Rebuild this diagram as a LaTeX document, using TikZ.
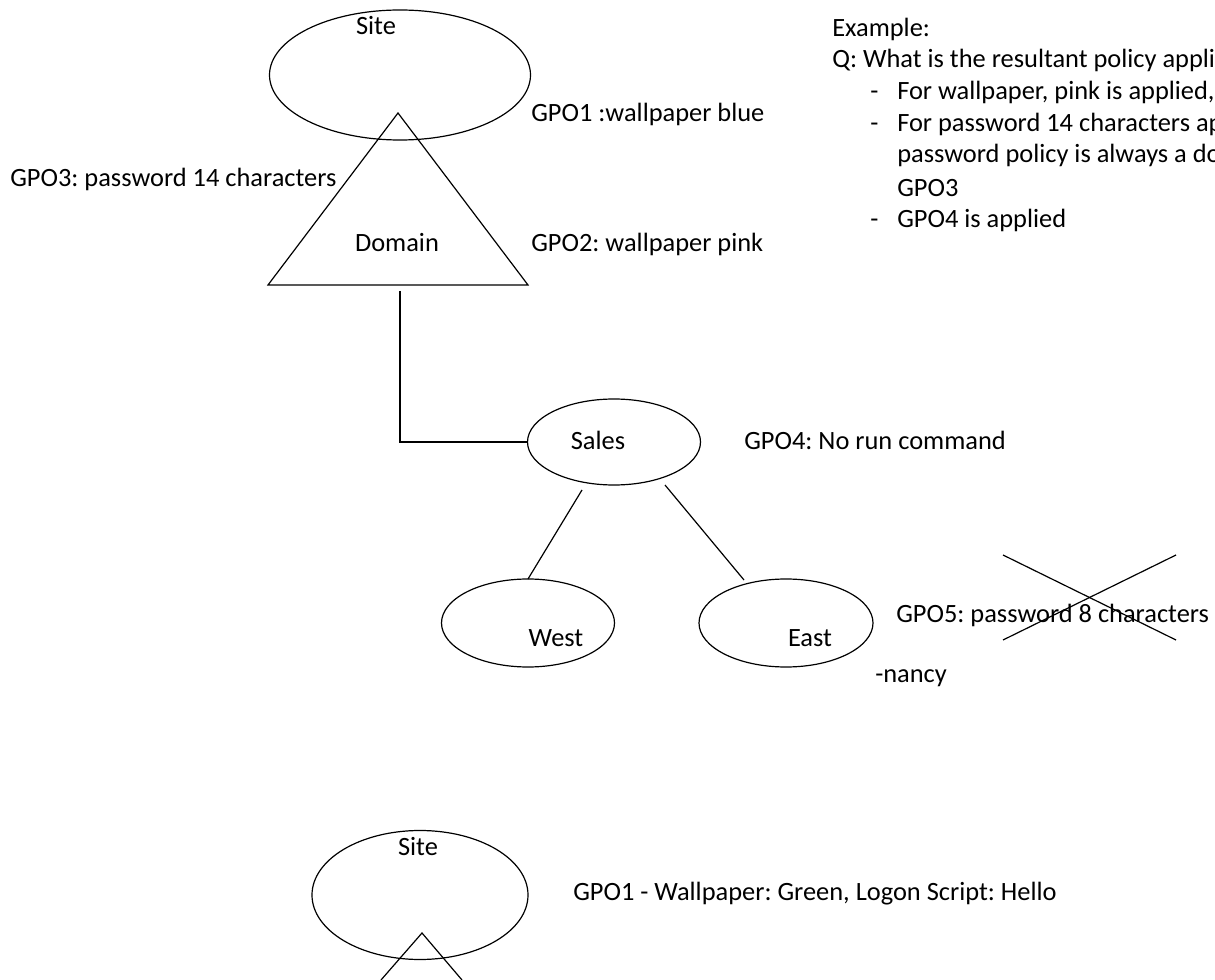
\documentclass[tikz,border=0pt]{standalone}
\usepackage{fontspec}
\setmainfont{Carlito}
\usetikzlibrary{shapes.geometric}
\frenchspacing
\begin{document}
\begin{tikzpicture}[x=0.75pt,y=-0.75pt,
  every node/.style={font=\fontsize{19.8pt}{23.8pt}\selectfont},
  txt/.style={inner sep=0pt,anchor=base west},
  lbl/.style={inner sep=0pt,anchor=base},
  oval/.style={draw,ellipse,line width=0.9pt,inner sep=0pt},
  conn/.style={line width=0.9pt}]
\useasboundingbox (0,0) rectangle (1215,980);
\clip (0,0) rectangle (1215,980);
% top site
\node[oval,minimum width=261*0.75pt,minimum height=130*0.75pt] (site) at (400,75) {};
\node[lbl] (sitelbl) at (376,35) {Site};
% domain triangle
\coordinate (apex) at (398,113);
\coordinate (bl) at (268,285);
\coordinate (br) at (528,285);
\draw[conn] (apex) -- (br) -- (bl) -- cycle;
\node[lbl] (domain) at (397,252) {Domain};
\node[txt] (g1) at (531,122) {GPO1 :wallpaper blue};
\node[txt] (g2) at (531,252) {GPO2: wallpaper pink};
\node[txt] (g3) at (10,187) {GPO3: password 14 characters};
% sales
\node[oval,minimum width=173*0.75pt,minimum height=86*0.75pt] (sales) at (614,442) {};
\node[lbl] (saleslbl) at (598,450) {Sales};
\coordinate (dbot) at (400,291);
\draw[conn] (dbot) |- (sales.west);
\node[txt] (g4) at (744,450) {GPO4: No run command};
% west, east
\node[oval,minimum width=173*0.75pt,minimum height=88*0.75pt] (west) at (528,623) {};
\node[lbl] (westlbl) at (556,647) {West};
\node[oval,minimum width=174*0.75pt,minimum height=88*0.75pt] (east) at (786,623) {};
\node[lbl] (eastlbl) at (810,647) {East};
\coordinate (s1) at (582,490);
\coordinate (w1) at (528,579);
\coordinate (s2) at (665,485);
\coordinate (e1) at (744,580);
\draw[conn] (s1) -- (w1);
\draw[conn] (s2) -- (e1);
\node[txt] (g5) at (896,623) {GPO5: password 8 characters};
\coordinate (x1) at (1003,555);
\coordinate (x2) at (1176,640);
\coordinate (x3) at (1003,640);
\coordinate (x4) at (1176,555);
\draw[conn] (x1) -- (x2);
\draw[conn] (x3) -- (x4);
\node[txt] (nancy) at (875,682) {-nancy};
% example text
\node[txt] (ex) at (832,37) {Example:};
\node[txt] (q) at (832,68) {Q: What is the resultant policy applied};
\node[txt] (d1) at (870,100) {-};
\node[txt] (b1) at (897,100) {For wallpaper, pink is applied, because};
\node[txt] (d2) at (870,132) {-};
\node[txt] (b2) at (897,132) {For password 14 characters applied};
\node[txt] (b2b) at (897,163) {password policy is always a domain};
\node[txt] (b2c) at (897,197) {GPO3};
\node[txt] (d3) at (870,228) {-};
\node[txt] (b3) at (897,228) {GPO4 is applied};
% bottom site
\node[oval,minimum width=216*0.75pt,minimum height=129*0.75pt] (site2) at (420,895) {};
\node[lbl] (site2lbl) at (418,855) {Site};
\coordinate (apex2) at (422,933);
\coordinate (l2) at (381,980);
\coordinate (r2) at (462,980);
\draw[conn] (l2) -- (apex2) -- (r2);
\node[txt] (g6) at (573,900) {GPO1 - Wallpaper: Green, Logon Script: Hello};
\end{tikzpicture}
\end{document}
